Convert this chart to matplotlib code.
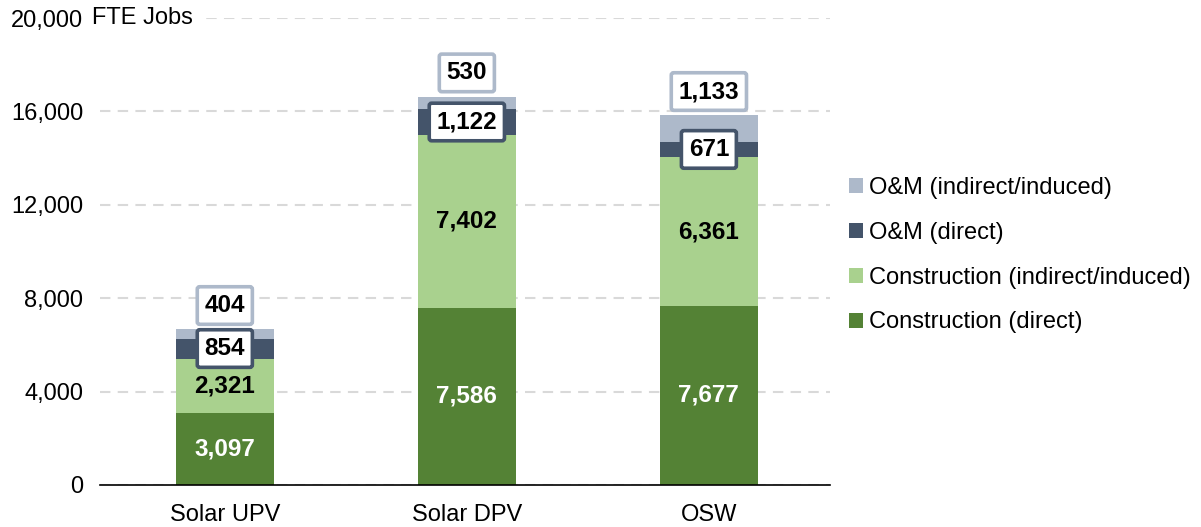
import matplotlib
matplotlib.use('Agg')
import numpy as np
import matplotlib.pyplot as plt
import matplotlib.transforms as mtransforms

plt.rcParams['font.family'] = ['Liberation Sans', 'DejaVu Sans']

# Данные
categories = ['Solar UPV', 'Solar DPV', 'OSW']
constr_direct = [3097, 7586, 7677]
constr_indirect = [2321, 7402, 6361]
om_direct = [854, 1122, 671]
om_indirect = [404, 530, 1133]

series_names = ['Construction (direct)', 'Construction (indirect/induced)',
                'O&M (direct)', 'O&M (indirect/induced)']
colors = ['#548235', '#a9d18e', '#44546a', '#adb9ca']

yticks = [0, 4000, 8000, 12000, 16000, 20000]

fig = plt.figure(figsize=(12.01, 5.27), dpi=100)
ax = fig.add_axes([0.083, 0.0797, 0.608, 0.886])

x = np.arange(len(categories))
w = 0.405
series = [constr_direct, constr_indirect, om_direct, om_indirect]
bottom = np.zeros(len(categories))
bars = []
for vals, name, col in zip(series, series_names, colors):
    b = ax.bar(x, vals, w, bottom=bottom, color=col, label=name, zorder=3)
    bars.append((b, np.array(vals), bottom.copy()))
    bottom += np.array(vals)

fs = 17
lfs = 17.5
# подписи
for i in range(len(categories)):
    # Construction (direct) - белый текст
    b, vals, bot = bars[0]
    ax.text(x[i], bot[i] + vals[i] / 2, f'{vals[i]:,}', ha='center', va='center',
            color='white', fontsize=lfs, fontweight='bold', zorder=5)
    b, vals, bot = bars[1]
    ax.text(x[i], bot[i] + vals[i] / 2, f'{vals[i]:,}', ha='center', va='center',
            color='black', fontsize=lfs, fontweight='bold', zorder=5)
    b, vals, bot = bars[2]
    ax.text(x[i], bot[i] + vals[i] / 2, f'{vals[i]:,}', ha='center', va='center',
            color='black', fontsize=lfs, fontweight='bold', zorder=6,
            bbox=dict(boxstyle='round,pad=0.3,rounding_size=0.1', fc='white',
                      ec='#44546a', lw=2.6))
    b, vals, bot = bars[3]
    ax.annotate(f'{vals[i]:,}', (x[i], bot[i] + vals[i]), xytext=(0, 17),
                textcoords='offset points', ha='center', va='center',
                color='black', fontsize=lfs, fontweight='bold', zorder=6,
                bbox=dict(boxstyle='round,pad=0.3,rounding_size=0.1', fc='white',
                          ec='#adb9ca', lw=2.6))

ax.set_xlim(-0.517, 2.5)
ax.set_ylim(0, 20000)
ax.set_yticks(yticks)
ax.set_yticklabels([f'{v:,}' for v in yticks])
ax.set_xticks(x)
ax.set_xticklabels(categories)
ax.tick_params(axis='both', length=0, labelsize=fs, colors='black')
ax.tick_params(axis='y', pad=12)
ax.tick_params(axis='x', pad=14)

for s in ['top', 'right', 'left']:
    ax.spines[s].set_visible(False)
ax.spines['bottom'].set_color('black')
ax.spines['bottom'].set_linewidth(1.2)
ax.spines['bottom'].set_zorder(4)

ax.yaxis.grid(True, color='#d9d9d9', lw=1.5, linestyle=(0, (5, 3.5)), zorder=0)
ax.set_axisbelow(True)

# "FTE Jobs" после верхней подписи
trans = mtransforms.blended_transform_factory(ax.transAxes, ax.transData)
ax.text(-0.010, yticks[-1], 'FTE Jobs', transform=trans, ha='left', va='center',
        fontsize=fs, zorder=5, clip_on=False,
        bbox=dict(boxstyle='square,pad=0.25', fc='white', ec='none'))

handles, labels = ax.get_legend_handles_labels()
leg = fig.legend(handles[::-1], labels[::-1], loc='center left',
                 bbox_to_anchor=(0.689, 0.516), frameon=False, fontsize=fs,
                 handlelength=0.6, handleheight=0.6, handletextpad=0.25,
                 labelspacing=0.97)

fig.savefig('out.png', dpi=100)
